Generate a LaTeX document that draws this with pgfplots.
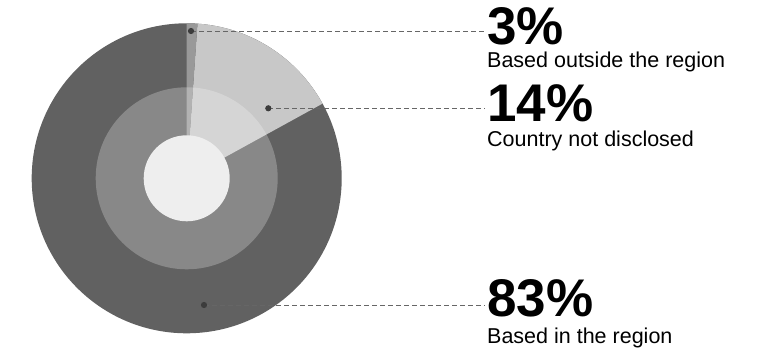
\documentclass[border=0pt]{standalone}
\usepackage{pgfplots}
\pgfplotsset{compat=1.18}
\usepackage{fontspec}
\setmainfont{Liberation Sans}

\definecolor{ringdark}{HTML}{616161}
\definecolor{ringlight}{HTML}{C8C8C8}
\definecolor{ringmid}{HTML}{999999}
\definecolor{hole}{HTML}{EEEEEE}
\definecolor{leader}{HTML}{666666}
\definecolor{dotcol}{HTML}{3C3C3C}

% pie centre and radii (pt)
\def\cx{186.7}
\def\cy{173.7}
% slice borders, degrees (counter-clockwise from east)
\def\aTop{90}
\def\aOut{86}     % end of "outside the region" slice
\def\aNd{28.8}    % end of "not disclosed" slice

\begin{document}
\begin{tikzpicture}
\useasboundingbox (0,0) rectangle (758pt,352pt);
\begin{axis}[
    x=1pt, y=1pt,
    xmin=0, xmax=758, ymin=0, ymax=352,
    hide axis, clip=false,
    anchor=origin, at={(0,0)},
  ]
  % rings
  \fill[ringdark] (axis cs:\cx,\cy) circle[radius=155pt];
  \fill[ringlight] (axis cs:\cx,\cy) -- ++(\aOut:155pt)
     arc[start angle=\aOut, end angle=\aNd, radius=155pt] -- cycle;
  \fill[ringmid] (axis cs:\cx,\cy) -- ++(\aTop:155pt)
     arc[start angle=\aTop, end angle=\aOut, radius=155pt] -- cycle;
  \fill[white, opacity=0.25] (axis cs:\cx,\cy) circle[radius=91pt];
  \fill[hole] (axis cs:\cx,\cy) circle[radius=43pt];

  % leader lines
  \addplot[leader, line width=0.9pt, dash pattern=on 5pt off 3pt,
     mark=*, mark size=2.6pt, mark indices={1},
     mark options={solid, fill=dotcol, draw=dotcol}]
     coordinates {(191,321) (485,321)};
  \addplot[leader, line width=0.9pt, dash pattern=on 5pt off 3pt,
     mark=*, mark size=2.6pt, mark indices={1},
     mark options={solid, fill=dotcol, draw=dotcol}]
     coordinates {(268.3,243.7) (485,243.7)};
  \addplot[leader, line width=0.9pt, dash pattern=on 5pt off 3pt,
     mark=*, mark size=2.6pt, mark indices={1},
     mark options={solid, fill=dotcol, draw=dotcol}]
     coordinates {(204,47) (485,47)};

  % labels
  \node[anchor=base west, inner sep=0pt, font=\fontsize{53}{53}\selectfont\bfseries] at (axis cs:487,307) {3\%};
  \node[anchor=base west, inner sep=0pt, font=\fontsize{21.5}{22}\selectfont] at (axis cs:487,284) {Based outside the region};
  \node[anchor=base west, inner sep=0pt, font=\fontsize{53}{53}\selectfont\bfseries] at (axis cs:487,230.5) {14\%};
  \node[anchor=base west, inner sep=0pt, font=\fontsize{21.5}{22}\selectfont] at (axis cs:487,205.5) {Country not disclosed};
  \node[anchor=base west, inner sep=0pt, font=\fontsize{53}{53}\selectfont\bfseries] at (axis cs:487,35) {83\%};
  \node[anchor=base west, inner sep=0pt, font=\fontsize{21.5}{22}\selectfont] at (axis cs:487,8) {Based in the region};
\end{axis}
\end{tikzpicture}
\end{document}
